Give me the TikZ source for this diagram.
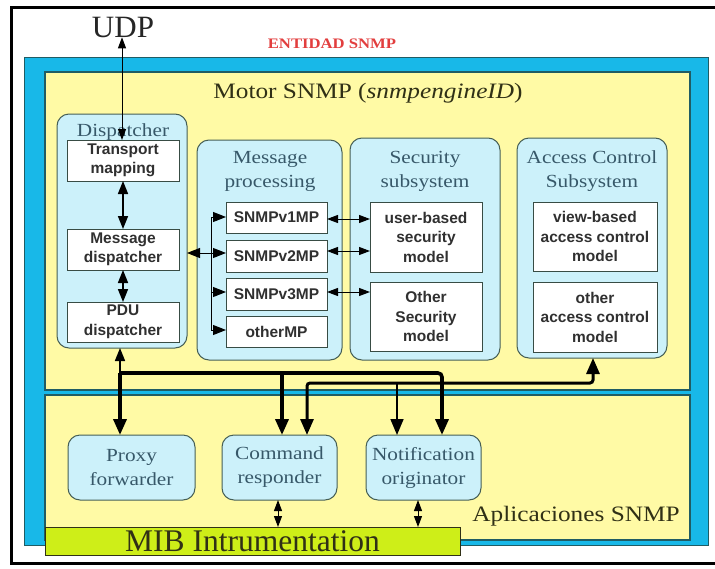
\documentclass[tikz,border=0pt]{standalone}
\usepackage{fontspec}
\setmainfont{Liberation Serif}
\newfontfamily\headfont[FakeStretch=1.15]{Liberation Serif}
\newfontfamily\unitfont{Liberation Sans}
\usetikzlibrary{arrows.meta}

\definecolor{skycyan}{RGB}{24,184,232}
\definecolor{paleyellow}{RGB}{255,250,165}
\definecolor{palecyan}{RGB}{204,241,250}
\definecolor{mibgreen}{RGB}{206,238,24}
\definecolor{edgeteal}{RGB}{32,92,100}
\definecolor{groupedge}{RGB}{70,95,85}
\definecolor{titleteal}{RGB}{55,88,105}
\definecolor{entred}{RGB}{226,62,62}
\definecolor{inkolive}{RGB}{48,48,22}
\definecolor{unitink}{RGB}{48,48,48}

\tikzset{
  every node/.style={inner sep=0pt, outer sep=0pt},
  band/.style={draw=edgeteal, line width=1pt, fill=skycyan, anchor=north west},
  layer/.style={draw=edgeteal, line width=1.2pt, fill=paleyellow, anchor=north west},
  group/.style={draw=groupedge, line width=1pt, fill=palecyan, rounded corners=12pt, anchor=north west},
  unit/.style={draw=groupedge!80!black, line width=1pt, fill=white, anchor=north west, align=center,
    text=unitink, font=\unitfont\bfseries\fontsize{15.5}{19.5}\selectfont},
  grouptitle/.style={anchor=north, align=center, text=titleteal, font=\headfont\fontsize{18.5}{24}\selectfont},
  app/.style={draw=groupedge, line width=1pt, fill=palecyan, rounded corners=12pt, anchor=north west,
    align=center, text=titleteal, font=\headfont\fontsize{18.5}{24}\selectfont},
  smalltip/.tip={Triangle[length=11pt,width=8pt]},
  midtip/.tip={Triangle[length=13pt,width=10pt]},
  bigtip/.tip={Triangle[length=16pt,width=13pt]},
  link/.style={draw=black, line width=1pt},
  medlink/.style={draw=black, line width=1.7pt},
  heavylink/.style={draw=black, line width=3.6pt},
}

\begin{document}
\begin{tikzpicture}[x=1pt,y=-1pt]
  \useasboundingbox (0,0) rectangle (715,568);
  \fill[white] (0,0) rectangle (715,568);
  % outer frame, open on the right
  \draw[line width=3pt] (716,7) -- (11,7) -- (11,563) -- (716,563);

  % entity band and its two layers
  \node[band, minimum width=684, minimum height=488] (entity) at (24,57) {};
  \node[layer, minimum width=645, minimum height=318] (engine) at (45,72) {};
  \node[layer, minimum width=645, minimum height=145] (apps) at (45,395) {};

  % engine subsystems
  \node[group, minimum width=130, minimum height=234] (disp) at (57,114) {};
  \node[group, minimum width=145, minimum height=220] (mproc) at (197,140) {};
  \node[group, minimum width=150, minimum height=222] (secsub) at (350,138) {};
  \node[group, minimum width=150, minimum height=220] (acsub) at (517,138) {};

  \node[grouptitle] (disptitle) at (123,124) {Dispatcher};
  \node[grouptitle] (mproctitle) at (270,151) {Message\\processing};
  \node[grouptitle] (sectitle) at (425,151) {Security\\subsystem};
  \node[grouptitle] (actitle) at (592,151) {Access Control\\Subsystem};

  % dispatcher units
  \node[unit, minimum width=112, minimum height=41] (tm) at (67,140) {Transport\\mapping};
  \node[unit, minimum width=112, minimum height=41] (md) at (67,229) {Message\\dispatcher};
  \node[unit, minimum width=112, minimum height=40] (pdu) at (67,302) {PDU\\dispatcher};

  % message processing models
  \node[unit, minimum width=101, minimum height=31] (v1) at (226,202) {SNMPv1MP};
  \node[unit, minimum width=101, minimum height=32] (v2) at (226,240) {SNMPv2MP};
  \node[unit, minimum width=101, minimum height=32] (v3) at (226,278) {SNMPv3MP};
  \node[unit, minimum width=101, minimum height=31] (omp) at (226,316) {otherMP};

  % security models
  \node[unit, minimum width=112, minimum height=70] (usm) at (370,202) {user-based\\security\\model};
  \node[unit, minimum width=112, minimum height=69] (osm) at (370,282) {Other\\Security\\model};

  % access control models
  \node[unit, minimum width=124, minimum height=69] (vacm) at (533,202) {view-based\\access control\\model};
  \node[unit, minimum width=124, minimum height=70] (oacm) at (533,282) {other\\access control\\model};

  % applications
  \node[app, minimum width=127, minimum height=65] (proxy) at (68,435) {Proxy\\forwarder};
  \node[app, minimum width=115, minimum height=65] (cmd) at (222,435) {Command\\responder};
  \node[app, minimum width=115, minimum height=65] (notif) at (366,435) {Notification\\originator};

  \node[draw=inkolive, line width=1pt, fill=mibgreen, anchor=north west, minimum width=415, minimum height=28,
        text=inkolive, font=\fontsize{31.5}{33}\selectfont] (mib) at (45,527) {MIB Intrumentation};

  % free-standing labels
  \node[anchor=base, font=\fontsize{31}{33}\selectfont, text=black!85] (udp) at (123,37) {UDP};
  \node[anchor=base, font=\headfont\bfseries\fontsize{14.5}{16}\selectfont, text=entred] (entlabel) at (332,48) {ENTIDAD SNMP};
  \node[anchor=base, font=\headfont\fontsize{22}{24}\selectfont, text=inkolive] (enginelabel) at (368,98) {Motor SNMP (\textit{snmpengineID})};
  \node[anchor=base, font=\headfont\fontsize{22}{24}\selectfont, text=inkolive] (appslabel) at (576,521) {Aplicaciones SNMP};

  % dispatcher links
  \draw[link, {smalltip}-{smalltip}] (udp.south -| 122,0) -- (tm.north -| 122,0);
  \draw[medlink, {midtip}-{midtip}] (tm.south -| 123,0) -- (md.north -| 123,0);
  \draw[medlink, {midtip}-{midtip}] (md.south -| 123,0) -- (pdu.north -| 123,0);
  \draw[link, {midtip}-{midtip}] (disp.east |- 0,253) -- (v2.west |- 0,253);

  % bus inside message processing
  \draw[link] (211,217) -- (211,330);
  \draw[link, -{midtip}] (211,217) -- (v1.west |- 0,217);
  \draw[link, -{midtip}] (211,292) -- (v3.west |- 0,292);
  \draw[link, -{midtip}] (211,330) -- (omp.west |- 0,330);

  % message processing to security
  \draw[link, {smalltip}-{smalltip}] (v1.east |- 0,219) -- (usm.west |- 0,219);
  \draw[link, {smalltip}-{smalltip}] (v2.east |- 0,251) -- (usm.west |- 0,251);
  \draw[link, {smalltip}-{smalltip}] (v3.east |- 0,292) -- (osm.west |- 0,292);

  % routing between the engine and the applications
  \coordinate (busA) at (120,373);
  \coordinate (busB) at (282,373);
  \coordinate (busN) at (442,373);
  \coordinate (busC) at (307,383);
  \coordinate (busE) at (397,383);
  \coordinate (busR) at (593,383);

  \draw[medlink, -{midtip}] (busA) -- (busA |- disp.south);
  \draw[heavylink, -{bigtip}] (busA) -- (busA |- proxy.north);
  \draw[heavylink, -{bigtip}] (busB) -- (busB |- cmd.north);
  \draw[heavylink, rounded corners=4pt, -{bigtip}] (busA) -- (busN) -- (busN |- notif.north);
  \draw[line width=3pt, rounded corners=3pt, {bigtip}-{bigtip}] (busC |- cmd.north) -- (busC) -- (busR) -- (busR |- acsub.south);
  \draw[medlink, -{bigtip}] (busE) -- (busE |- notif.north);

  % applications to instrumentation
  \draw[link, {smalltip}-{smalltip}] (cmd.south -| 278,0) -- (mib.north -| 278,0);
  \draw[link, {smalltip}-{smalltip}] (notif.south -| 418,0) -- (mib.north -| 418,0);
\end{tikzpicture}
\end{document}
